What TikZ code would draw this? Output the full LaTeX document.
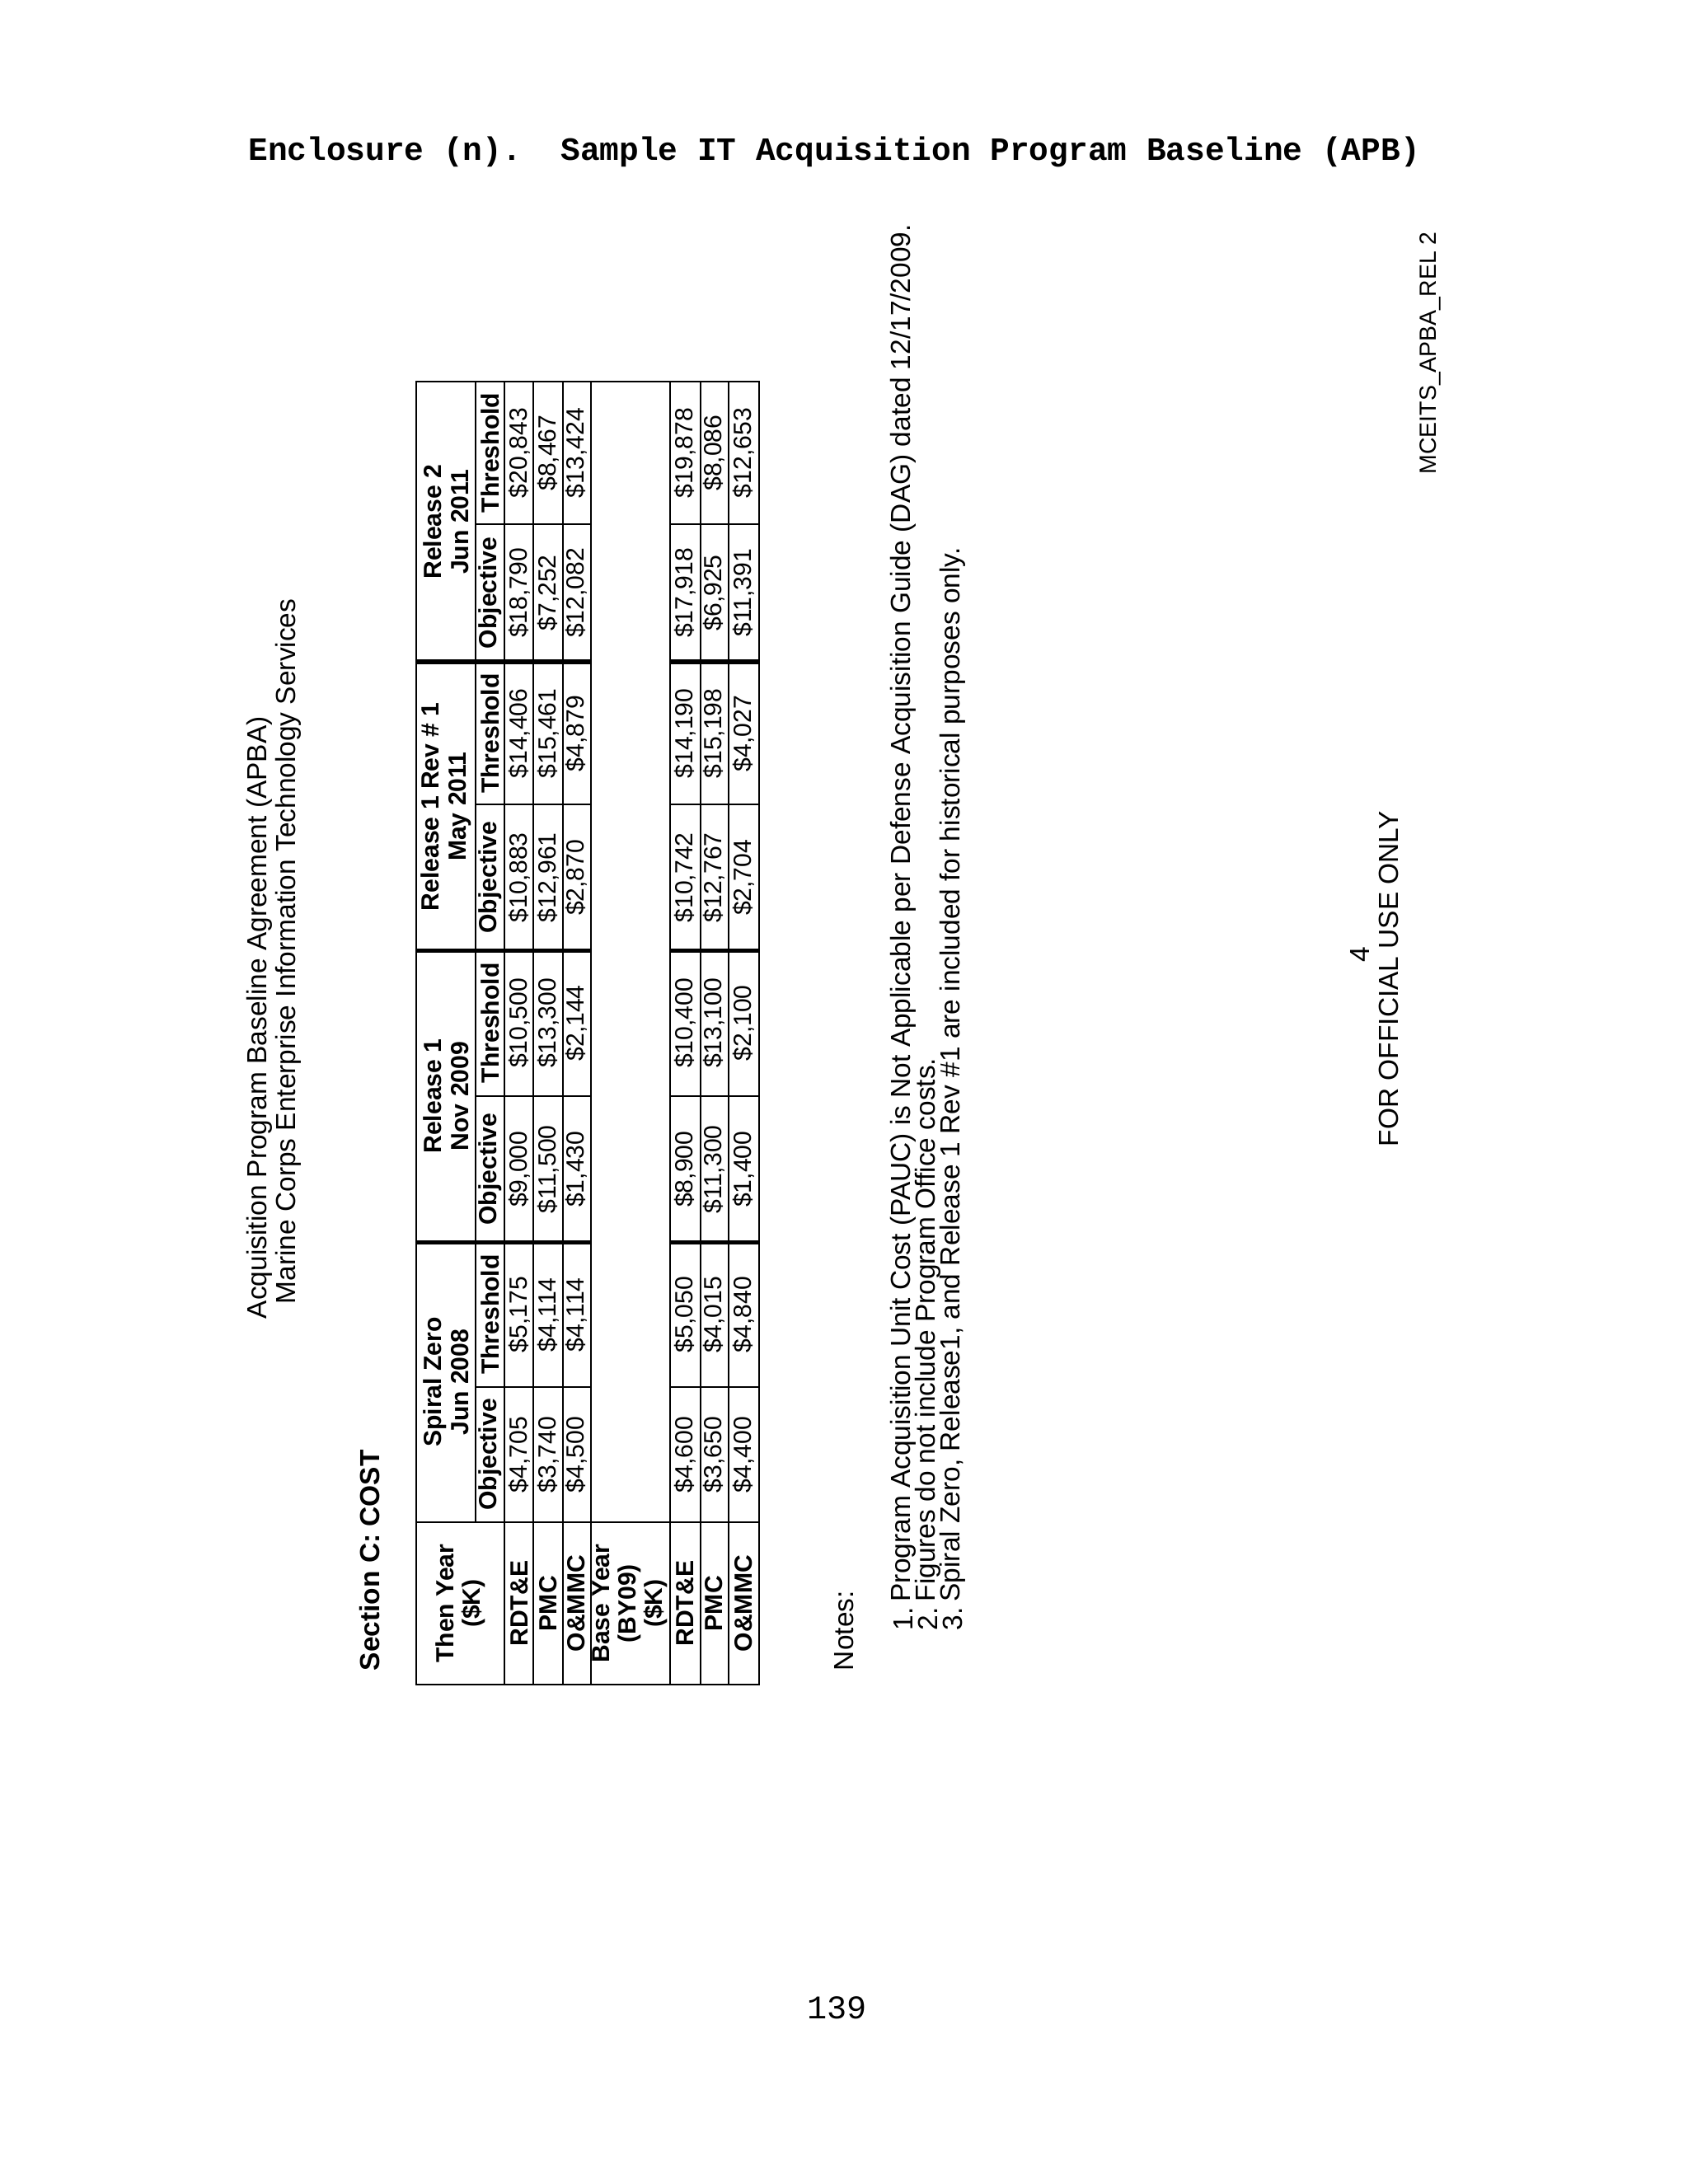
\documentclass[tikz,border=0pt]{standalone}
\usepackage{fontspec}
\setmainfont{Liberation Sans}
\newfontfamily\monof{Liberation Mono}
\begin{document}
\begin{tikzpicture}[x=0.5pt,y=-0.5pt,
  rt/.style={rotate=90,inner sep=0pt},
  hd/.style={rt,font=\fontsize{9}{9.6}\selectfont\bfseries,align=center},
  num/.style={rt,font=\fontsize{9}{10}\selectfont},
  txt/.style={rt,font=\fontsize{10}{12}\selectfont},
  grid/.style={line width=0.6pt},
  thick grid/.style={line width=1.6pt}]
\useasboundingbox (0,0) rectangle (1224,1584);
\fill[white] (0,0) rectangle (1224,1584);
% title
\node[font=\monof\bfseries\fontsize{11.8}{14}\selectfont,inner sep=0] (title) at (605,110) {Enclosure (n).\ \ Sample IT Acquisition Program Baseline (APB)};
\node[font=\monof\fontsize{12}{14}\selectfont,inner sep=0] (pg) at (607,1456) {139};
% rotated headings
\node[txt] (h1) at (188,738) {Acquisition Program Baseline Agreement (APBA)};
\node[txt] (h2) at (209,690) {Marine Corps Enterprise Information Technology Services};
\node[txt,font=\fontsize{10}{12}\selectfont\bfseries,anchor=west] (sec) at (268,1212) {Section C: COST};
% table grid
\draw[grid] (302,277) rectangle (550.5,1222);
\draw[grid] (302,1104) -- (550.5,1104);
\foreach \y in {901,689.5,480}{
  \draw[thick grid] (302,\y) -- (428.5,\y);
  \draw[thick grid] (486,\y) -- (550.5,\y);}
\foreach \y in {1006,795,583.5,380}{
  \draw[grid] (345,\y) -- (428.5,\y);
  \draw[grid] (486,\y) -- (550.5,\y);}
\draw[grid] (345,277) -- (345,1104);
\foreach \x in {366,387,408,428.5,486,508,528.5}{
  \draw[grid] (\x,277) -- (\x,1222);}
% header cells
\node[hd] (ty) at (334,1163) {Then Year\\(\$K)};
\node[hd] (g1) at (323.5,1002.5) {Spiral Zero\\Jun 2008};
\node[hd] (g2) at (323.5,795) {Release 1\\Nov 2009};
\node[hd] (g3) at (323.5,585) {Release 1 Rev \# 1\\May 2011};
\node[hd] (g4) at (323.5,378.5) {Release 2\\Jun 2011};
\foreach \c in {1055,848,636.5,430}{\node[hd] at (355.5,\c) {Objective};}
\foreach \c in {953.5,742,532,328.5}{\node[hd] at (355.5,\c) {Threshold};}
% row labels
\node[hd] (l1) at (376.5,1163) {RDT\&E};
\node[hd] (l2) at (397.5,1163) {PMC};
\node[hd] (l3) at (418,1163) {O\&MMC};
\node[hd] (l4) at (457,1163) {Base Year\\(BY09)\\(\$K)};
\node[hd] (l5) at (497,1163) {RDT\&E};
\node[hd] (l6) at (518,1163) {PMC};
\node[hd] (l7) at (539.5,1163) {O\&MMC};
% data
\foreach \x/\a/\b/\c/\d/\e/\f/\g/\h in {
 376.5/{4,705}/{5,175}/{9,000}/{10,500}/{10,883}/{14,406}/{18,790}/{20,843},
 397.5/{3,740}/{4,114}/{11,500}/{13,300}/{12,961}/{15,461}/{7,252}/{8,467},
 418/{4,500}/{4,114}/{1,430}/{2,144}/{2,870}/{4,879}/{12,082}/{13,424},
 497/{4,600}/{5,050}/{8,900}/{10,400}/{10,742}/{14,190}/{17,918}/{19,878},
 518/{3,650}/{4,015}/{11,300}/{13,100}/{12,767}/{15,198}/{6,925}/{8,086},
 539.5/{4,400}/{4,840}/{1,400}/{2,100}/{2,704}/{4,027}/{11,391}/{12,653}}{
  \node[num] at (\x,1055) {\$\a};
  \node[num] at (\x,953.5) {\$\b};
  \node[num] at (\x,848) {\$\c};
  \node[num] at (\x,742) {\$\d};
  \node[num] at (\x,636.5) {\$\e};
  \node[num] at (\x,532) {\$\f};
  \node[num] at (\x,430) {\$\g};
  \node[num] at (\x,328.5) {\$\h};
}
% notes
\node[txt,anchor=west] (notes) at (612,1212) {Notes:};
\node[txt,anchor=west] (n1) at (655,1183) {1.};
\node[txt,anchor=west] (n1t) at (655,1162) {Program Acquisition Unit Cost (PAUC) is Not Applicable per Defense Acquisition Guide (DAG) dated 12/17/2009.};
\node[txt,anchor=west] (n2) at (673,1183) {2.};
\node[txt,anchor=west] (n2t) at (673,1162) {Figures do not include Program Office costs.};
\node[txt,anchor=west] (n3) at (691,1183) {3.};
\node[txt,anchor=west] (n3t) at (691,1162) {Spiral Zero, Release1, and Release 1 Rev \#1 are included for historical purposes only.};
% footer
\node[txt] (four) at (986,692) {4};
\node[txt] (fouo) at (1007,710) {FOR OFFICIAL USE ONLY};
\node[txt,font=\fontsize{8.5}{10}\selectfont] (mc) at (1037,256) {MCEITS\_APBA\_REL 2};
\end{tikzpicture}
\end{document}
